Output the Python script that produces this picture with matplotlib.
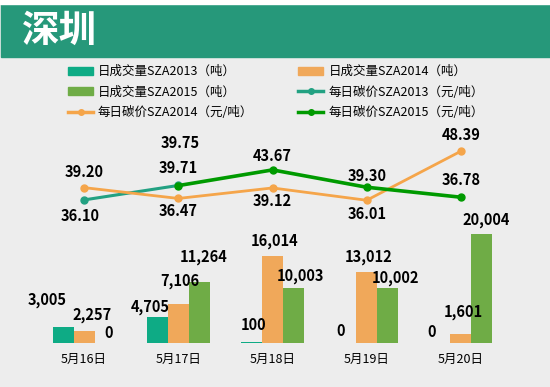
import numpy as np
import matplotlib.pyplot as plt
from matplotlib.patches import Rectangle, Patch
from matplotlib.lines import Line2D

plt.rcParams['font.family'] = ['Noto Sans CJK SC', 'DejaVu Sans']

### Data
dates = ['5月16日', '5月17日', '5月18日', '5月19日', '5月20日']
vol_2013 = [3005, 4705, 100, 0, 0]
vol_2014 = [2257, 7106, 16014, 13012, 1601]
vol_2015 = [0, 11264, 10003, 10002, 20004]
price_2013 = [36.10, 39.75, np.nan, np.nan, np.nan]
price_2014 = [39.20, 36.47, 39.12, 36.01, 48.39]
price_2015 = [np.nan, 39.71, 43.67, 39.30, 36.78]

### Label offsets in pixels (dx, dy), up is positive
off_v13 = [(-16, 27), (-7, 10), (2, 17), (-5, 12), (-8, 11)]
off_v14 = [(8, 16), (2, 23), (2, 15), (2, 15), (2, 22)]
off_v15 = [(4, 10), (4, 25), (7, 12), (8, 10), (4, 14)]
off_p13 = [(-4, -16), (2, 42)]
off_p14 = [(0, 16), (0, -13), (0, -13), (0, -14), (0, 16)]
off_p15 = [None, (0, 18), (0, 14), (0, 11), (0, 17)]

c13_bar, c14_bar, c15_bar = '#0EAB85', '#F0A85A', '#6FAC46'
c13_line, c14_line, c15_line = '#22A182', '#F5A54A', '#009A00'

W, H = 550, 387
px = 0.72  # pixels -> points at 100 dpi

fig = plt.figure(figsize=(W / 100, H / 100), dpi=100, facecolor='#EDEDED')

# header band
fig.patches.append(Rectangle((1 / W, 1 - 57 / H), 549 / W, 53 / H,
                             transform=fig.transFigure, color='#26987A', zorder=0))
fig.patches.append(Rectangle((0, 1 - 4 / H), 1, 4 / H,
                             transform=fig.transFigure, color='white', zorder=0))
fig.text(22 / W, 1 - 30 / H, '深圳', color='white', fontsize=27,
         fontweight='bold', va='center', ha='left')

ax = fig.add_axes([37 / W, 1 - 343 / H, 471 / W, 218 / H])
ax.set_facecolor('none')
x = np.arange(len(dates))
bw = 0.222

def bar_labels(xs, vals, offs):
    for xi, v, (dx, dy) in zip(xs, vals, offs):
        ax.annotate(f'{v:,}', (xi, v), xytext=(dx * px, dy * px),
                    textcoords='offset points', ha='center', va='center',
                    fontsize=10.5, fontweight='bold', color='black')

ax.bar(x - bw, vol_2013, bw, color=c13_bar)
ax.bar(x, vol_2014, bw, color=c14_bar)
ax.bar(x + bw, vol_2015, bw, color=c15_bar)
bar_labels(x - bw, vol_2013, off_v13)
bar_labels(x, vol_2014, off_v14)
bar_labels(x + bw, vol_2015, off_v15)

ax.set_xlim(-0.5, 4.5)
ax.set_ylim(0, 40000)
ax.set_xticks(x)
ax.set_xticklabels(dates, fontsize=9)
ax.tick_params(axis='x', length=0, pad=7)
ax.set_yticks([])
for s in ax.spines.values():
    s.set_visible(False)

ax2 = ax.twinx()
ax2.set_facecolor('none')
ax2.set_ylim(0, 55)
ax2.set_yticks([])
for s in ax2.spines.values():
    s.set_visible(False)

ax2.plot(x, price_2013, color=c13_line, lw=2.2, marker='o', ms=5)
ax2.plot(x, price_2014, color=c14_line, lw=2, marker='o', ms=5)
ax2.plot(x, price_2015, color=c15_line, lw=2.6, marker='o', ms=5)

def line_labels(vals, offs):
    for xi, v, o in zip(x, vals, offs):
        if o is None or np.isnan(v):
            continue
        ax2.annotate(f'{v:.2f}', (xi, v), xytext=(o[0] * px, o[1] * px),
                     textcoords='offset points', ha='center', va='center',
                     fontsize=10.5, fontweight='bold', color='black')

line_labels(price_2013, off_p13)
line_labels(price_2014, off_p14)
line_labels(price_2015, off_p15)

handles = [
    Patch(color=c13_bar), Patch(color=c15_bar),
    Line2D([], [], color=c14_line, lw=2.5, marker='o', ms=4),
    Patch(color=c14_bar),
    Line2D([], [], color=c13_line, lw=2.5, marker='o', ms=4),
    Line2D([], [], color=c15_line, lw=2.5, marker='o', ms=4),
]
labels = ['日成交量SZA2013（吨）', '日成交量SZA2015（吨）', '每日碳价SZA2014（元/吨）',
          '日成交量SZA2014（吨）', '每日碳价SZA2013（元/吨）', '每日碳价SZA2015（元/吨）']
fig.legend(handles, labels, loc='upper left', bbox_to_anchor=(68 / W, 1 - 65 / H),
           ncol=2, frameon=False, fontsize=9, borderpad=0, borderaxespad=0,
           handlelength=2.0, handleheight=0.6, handletextpad=0.4,
           columnspacing=3.6, labelspacing=0.6)

fig.savefig('out.png', dpi=100, facecolor=fig.get_facecolor())
